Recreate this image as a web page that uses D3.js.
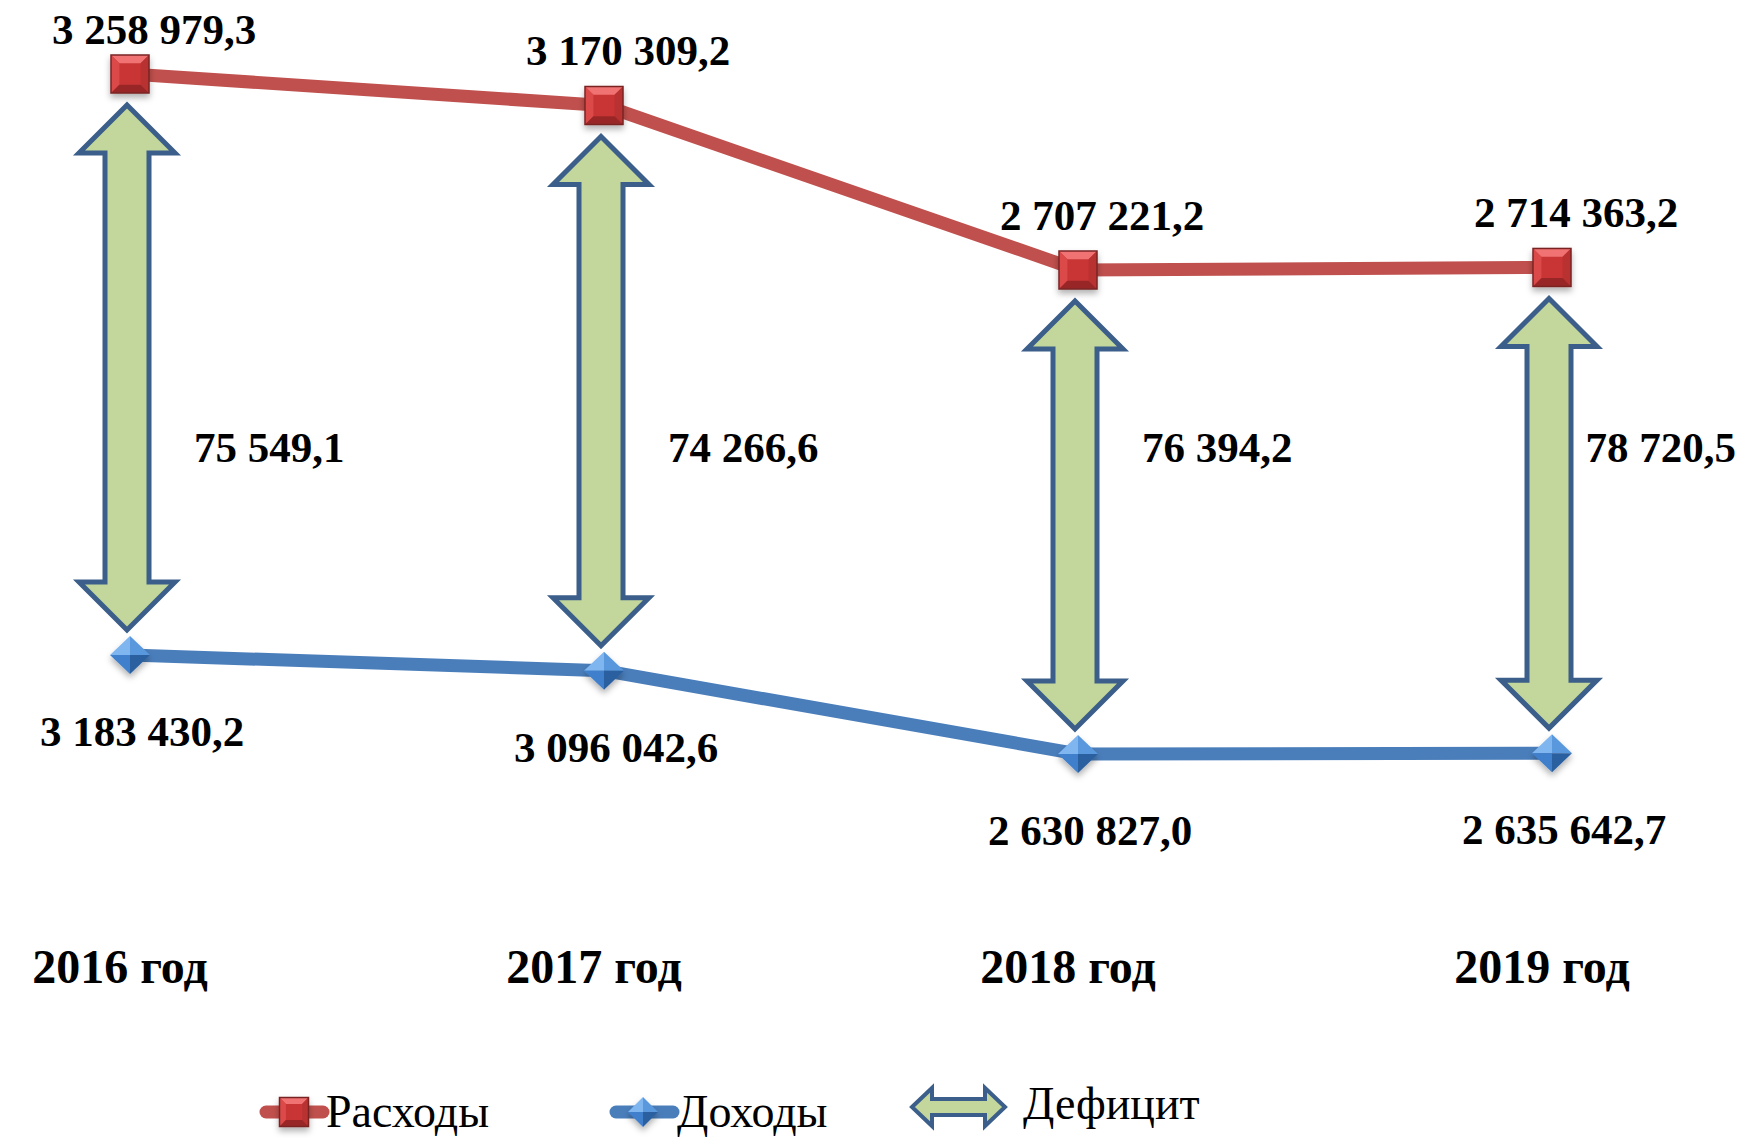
<!DOCTYPE html>
<html>
<head>
<meta charset="utf-8">
<script src="https://cdn.jsdelivr.net/npm/d3@7"></script>
<style>
  body { margin: 0; background: #fff; }
  text { font-family: "Liberation Serif", "Times New Roman", serif; }
</style>
</head>
<body>
<div id="chart"></div>
<script>
var years = ["2016 год", "2017 год", "2018 год", "2019 год"];
var expenses = [3258979.3, 3170309.2, 2707221.2, 2714363.2];
var incomes = [3183430.2, 3096042.6, 2630827.0, 2635642.7];
var deficits = [75549.1, 74266.6, 76394.2, 78720.5];
var legendNames = ["Расходы", "Доходы", "Дефицит"];

var width = 1742,
  height = 1138;

var redLine = "#c0504d",
  blueLine = "#4a7ebb",
  arrowFill = "#c3d69b",
  arrowStroke = "#3b5f8a";

// numbers like 3 258 979,3
function fmt(v) {
  var s = v.toFixed(1).split(".");
  return s[0].replace(/\B(?=(\d{3})+(?!\d))/g, " ") + "," + s[1];
}

var svg = d3
  .select("#chart")
  .append("svg")
  .attr("width", width)
  .attr("height", height);

var defs = svg.append("defs");
var shadow = defs.append("filter").attr("id", "shadow").attr("x", "-50%").attr("y", "-50%").attr("width", "200%").attr("height", "200%");
shadow
  .append("feDropShadow")
  .attr("dx", 0)
  .attr("dy", 4)
  .attr("stdDeviation", 3)
  .attr("flood-color", "#000")
  .attr("flood-opacity", 0.3);

var x = d3.scalePoint().domain(years).range([130, 1552]);
// two value axes, as in the original (primary - расходы, secondary - доходы)
var yExp = d3.scaleLinear().domain(d3.extent(expenses)).range([270, 74]);
var yInc = d3.scaleLinear().domain(d3.extent(incomes)).range([754, 655]);

var line = d3.line();

function drawSquare(g, cx, cy, s) {
  var h = s / 2,
    b = s * 0.22;
  var grp = g.append("g").attr("filter", "url(#shadow)");
  grp.append("rect").attr("x", cx - h).attr("y", cy - h).attr("width", s).attr("height", s).attr("fill", "#c93636");
  var faces = [
    [[cx - h, cy - h], [cx + h, cy - h], [cx + h - b, cy - h + b], [cx - h + b, cy - h + b], "#f07272"],
    [[cx - h, cy - h], [cx - h + b, cy - h + b], [cx - h + b, cy + h - b], [cx - h, cy + h], "#dc4a4a"],
    [[cx + h, cy - h], [cx + h, cy + h], [cx + h - b, cy + h - b], [cx + h - b, cy - h + b], "#b83030"],
    [[cx - h, cy + h], [cx - h + b, cy + h - b], [cx + h - b, cy + h - b], [cx + h, cy + h], "#982828"],
  ];
  faces.forEach(function (f) {
    grp.append("path").attr("d", "M" + f.slice(0, 4).join("L") + "Z").attr("fill", f[4]);
  });
  grp
    .append("rect")
    .attr("x", cx - h)
    .attr("y", cy - h)
    .attr("width", s)
    .attr("height", s)
    .attr("fill", "none")
    .attr("stroke", "#7a2424")
    .attr("stroke-width", 1.5);
}

function drawDiamond(g, cx, cy, w, hh) {
  var a = w / 2,
    b = hh / 2;
  var grp = g.append("g").attr("filter", "url(#shadow)");
  var tris = [
    [[cx, cy - b], [cx - a, cy], [cx, cy], "#7fb6f0"],
    [[cx, cy - b], [cx + a, cy], [cx, cy], "#5a98de"],
    [[cx - a, cy], [cx, cy + b], [cx, cy], "#3f7fcb"],
    [[cx + a, cy], [cx, cy + b], [cx, cy], "#2b609f"],
  ];
  tris.forEach(function (t) {
    grp.append("path").attr("d", "M" + t.slice(0, 3).join("L") + "Z").attr("fill", t[3]);
  });
}

// vertical double arrow between y1 (top) and y2 (bottom)
function vArrow(cx, y1, y2, hw, sw, hl) {
  return (
    "M" + cx + "," + y1 +
    "L" + (cx + hw) + "," + (y1 + hl) +
    "L" + (cx + sw) + "," + (y1 + hl) +
    "L" + (cx + sw) + "," + (y2 - hl) +
    "L" + (cx + hw) + "," + (y2 - hl) +
    "L" + cx + "," + y2 +
    "L" + (cx - hw) + "," + (y2 - hl) +
    "L" + (cx - sw) + "," + (y2 - hl) +
    "L" + (cx - sw) + "," + (y1 + hl) +
    "L" + (cx - hw) + "," + (y1 + hl) + "Z"
  );
}

function hArrow(x1, x2, cy, hw, sw, hl) {
  return (
    "M" + x1 + "," + cy +
    "L" + (x1 + hl) + "," + (cy - hw) +
    "L" + (x1 + hl) + "," + (cy - sw) +
    "L" + (x2 - hl) + "," + (cy - sw) +
    "L" + (x2 - hl) + "," + (cy - hw) +
    "L" + x2 + "," + cy +
    "L" + (x2 - hl) + "," + (cy + hw) +
    "L" + (x2 - hl) + "," + (cy + sw) +
    "L" + (x1 + hl) + "," + (cy + sw) +
    "L" + (x1 + hl) + "," + (cy + hw) + "Z"
  );
}

// deficit arrows
svg
  .append("g")
  .selectAll("path")
  .data(years)
  .enter()
  .append("path")
  .attr("d", function (d, i) {
    return vArrow(x(d) - 3, yExp(expenses[i]) + 31, yInc(incomes[i]) - 25, 48, 22, 48);
  })
  .attr("fill", arrowFill)
  .attr("stroke", arrowStroke)
  .attr("stroke-width", 5)
  .attr("stroke-linejoin", "miter");

// lines
svg
  .append("path")
  .attr("d", line(years.map(function (d, i) { return [x(d), yExp(expenses[i])]; })))
  .attr("fill", "none")
  .attr("stroke", redLine)
  .attr("stroke-width", 13)
  .attr("stroke-linejoin", "round");

svg
  .append("path")
  .attr("d", line(years.map(function (d, i) { return [x(d), yInc(incomes[i])]; })))
  .attr("fill", "none")
  .attr("stroke", blueLine)
  .attr("stroke-width", 13)
  .attr("stroke-linejoin", "round");

// markers
var markers = svg.append("g");
years.forEach(function (d, i) {
  drawSquare(markers, x(d), yExp(expenses[i]), 38);
  drawDiamond(markers, x(d), yInc(incomes[i]), 40, 38);
});

// value labels
var labels = svg.append("g").attr("font-weight", "bold").attr("font-size", 43).attr("fill", "#000");

labels
  .selectAll(".exp")
  .data(expenses)
  .enter()
  .append("text")
  .attr("text-anchor", "middle")
  .attr("x", function (d, i) { return x(years[i]) + 24; })
  .attr("y", function (d) { return Math.max(44, yExp(d) - 40); })
  .text(fmt);

labels
  .selectAll(".inc")
  .data(incomes)
  .enter()
  .append("text")
  .attr("text-anchor", "middle")
  .attr("x", function (d, i) { return x(years[i]) + 12; })
  .attr("y", function (d) { return yInc(d) + 91; })
  .text(fmt);

labels
  .selectAll(".def")
  .data(deficits)
  .enter()
  .append("text")
  .attr("x", function (d, i) { return x(years[i]) + 64; })
  .attr("y", 462)
  .text(fmt)
  .each(function () {
    var w = this.getComputedTextLength();
    var xx = +d3.select(this).attr("x");
    if (xx + w > width - 6) d3.select(this).attr("x", width - 6 - w);
  });

// category labels
svg
  .append("g")
  .selectAll("text")
  .data(years)
  .enter()
  .append("text")
  .attr("text-anchor", "middle")
  .attr("x", function (d) { return x(d) - 10; })
  .attr("y", 983)
  .attr("font-weight", "bold")
  .attr("font-size", 48)
  .text(function (d) { return d; });

// legend
var legend = svg.append("g");
legend.append("line").attr("x1", 266).attr("x2", 323).attr("y1", 1112).attr("y2", 1112)
  .attr("stroke", redLine).attr("stroke-width", 13).attr("stroke-linecap", "round");
drawSquare(legend, 294, 1112, 29);
legend.append("text").attr("x", 326).attr("y", 1127).attr("font-size", 46).text(legendNames[0]);

legend.append("line").attr("x1", 616).attr("x2", 673).attr("y1", 1112).attr("y2", 1112)
  .attr("stroke", blueLine).attr("stroke-width", 13).attr("stroke-linecap", "round");
drawDiamond(legend, 643, 1112, 30, 30);
legend.append("text").attr("x", 677).attr("y", 1127).attr("font-size", 46).text(legendNames[1]);

legend.append("path").attr("d", hArrow(912, 1005, 1107, 19, 8, 20))
  .attr("fill", arrowFill).attr("stroke", arrowStroke).attr("stroke-width", 4);
legend.append("text").attr("x", 1023).attr("y", 1119).attr("font-size", 46).text(legendNames[2]);
</script>
</body>
</html>
